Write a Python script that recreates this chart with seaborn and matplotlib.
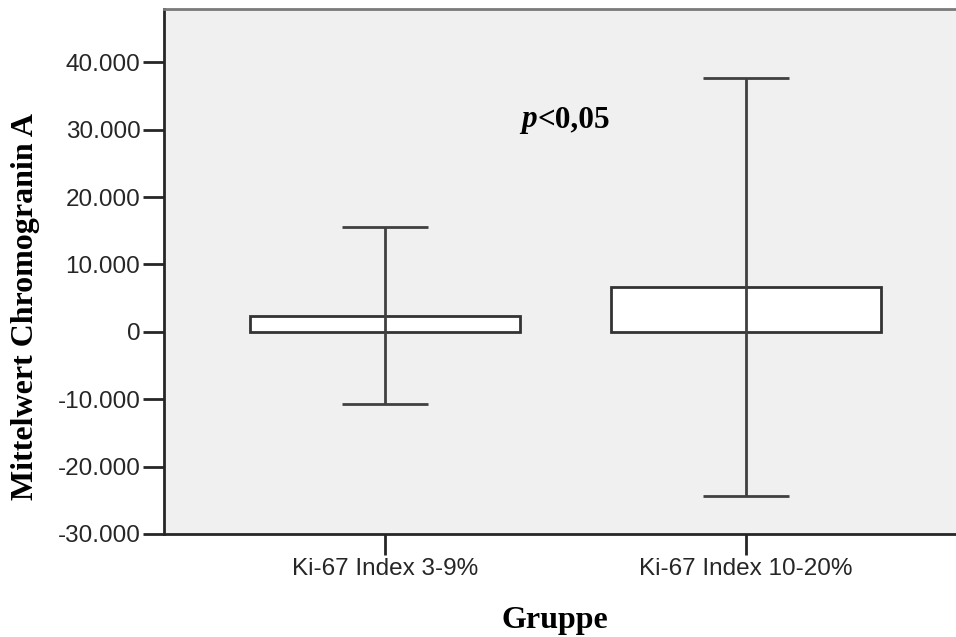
import matplotlib
matplotlib.use("Agg")
import matplotlib.pyplot as plt
from matplotlib.ticker import FuncFormatter, FixedLocator
from matplotlib.transforms import offset_copy
import seaborn as sns
import pandas as pd

# Group means of Chromogranin A with their 95% confidence limits
groups = ["Ki-67 Index 3-9%", "Ki-67 Index 10-20%"]
means = [2400, 6700]
ci_lower = [-10750, -24300]
ci_upper = [15600, 37700]
y_ticks = [-30000, -20000, -10000, 0, 10000, 20000, 30000, 40000]

df = pd.DataFrame({"Gruppe": groups, "Mittelwert": means})

sns.set_theme(style="white")
plt.rcParams["font.family"] = ["Liberation Sans", "DejaVu Sans"]
serif = ["Liberation Serif", "DejaVu Serif"]

fig = plt.figure(figsize=(9.56, 6.37), dpi=100)
ax = fig.add_axes([0.1715, 0.1617, 0.84, 0.8242])
ax.set_facecolor("#F0F0F0")

sns.barplot(data=df, x="Gruppe", y="Mittelwert", order=groups, width=0.75,
            color="white", edgecolor="#333333", linewidth=2.0,
            errorbar=None, ax=ax, zorder=2)

# confidence interval whiskers
for i, (m, lo, hi) in enumerate(zip(means, ci_lower, ci_upper)):
    ax.errorbar(i, m, yerr=[[m - lo], [hi - m]], fmt="none",
                ecolor="#404040", elinewidth=2.0, capsize=31, capthick=2.0,
                zorder=3)

ax.set_xlim(-0.612, 1.612)
ax.set_ylim(-30000, 47900)
ax.yaxis.set_major_locator(FixedLocator(y_ticks))
ax.yaxis.set_major_formatter(
    FuncFormatter(lambda v, _: f"{int(round(v)):,}".replace(",", ".")))

for side in ["left", "bottom"]:
    ax.spines[side].set_color("#262626")
    ax.spines[side].set_linewidth(2.0)
ax.spines["top"].set_color("#7a7a7a")
ax.spines["top"].set_linewidth(2.0)
ax.spines["right"].set_visible(False)

ax.tick_params(axis="both", which="major", direction="out", length=15,
               width=2.0, color="#262626", labelsize=17.5,
               labelcolor="#262626", left=True, bottom=True, pad=2)
ax.set_xlabel("")
ax.set_ylabel("")

# axis titles
fig.text(33 / 956, 1 - 306 / 637, "Mittelwert Chromogranin A", rotation=90,
         rotation_mode="anchor", ha="center", va="baseline", fontsize=23,
         fontweight="bold", family=serif, color="black")
fig.text(555 / 956, 9 / 637, "Gruppe", ha="center", va="baseline",
         fontsize=23, fontweight="bold", family=serif, color="black")

# significance note: italic p followed by the threshold
p_txt = ax.text(0.4446, 0.775, "p", transform=ax.transAxes, fontsize=22.5,
                fontweight="bold", fontstyle="italic", family=serif,
                color="black", ha="left", va="baseline")
fig.canvas.draw()
p_width = p_txt.get_window_extent(fig.canvas.get_renderer()).width
ax.text(0.4446, 0.775, "<0,05",
        transform=offset_copy(ax.transAxes, fig=fig, x=p_width + 1,
                              units="dots"),
        fontsize=22.5, fontweight="bold", family=serif, color="black",
        ha="left", va="baseline")

fig.savefig("out.png", dpi=100)
